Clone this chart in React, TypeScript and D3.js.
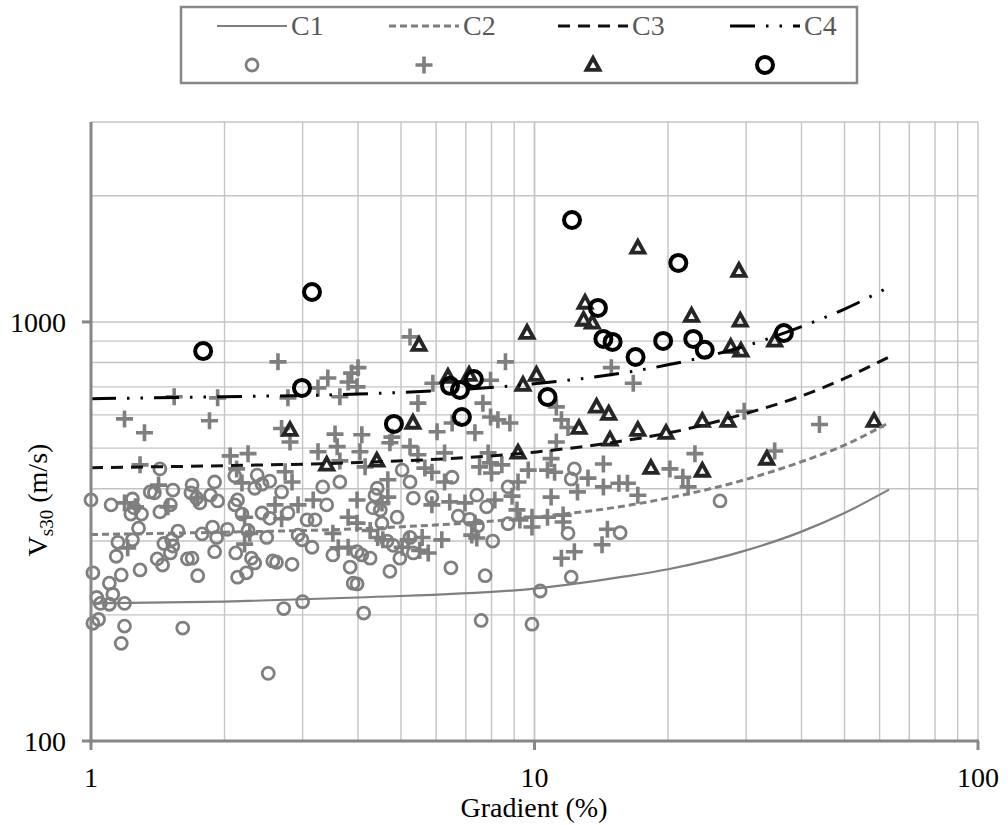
import React, { useEffect, useRef } from 'react';
import * as d3 from 'd3';

// axis ticks
const xTicks = [1, 10, 100];
const yTicks = [100, 1000];

// fitted curves, gradient (%) against Vs30 (m/s)
const curveGrad = [1, 2, 4, 10, 16, 20, 30, 40, 50, 63];
const c1Vs = [213, 215, 220, 231, 247, 257, 285, 316, 350, 398];
const c2Vs = [311, 315, 321, 342, 364, 380, 421, 464, 508, 575];
const c3Vs = [449, 454, 462, 489, 521, 543, 605, 666, 733, 825];
const c4Vs = [656, 663, 673, 712, 757, 790, 877, 975, 1073, 1212];

// class C1 sites [gradient, Vs30]
const siteC1 = [
  [1.0, 376], [1.11, 366], [1.24, 378], [1.25, 360], [1.23, 348], [1.3, 348], [1.28, 322], [1.15, 298],
  [1.24, 302], [1.14, 276], [1.29, 256], [1.17, 249], [1.01, 252], [1.1, 238], [1.12, 224], [1.03, 220],
  [1.05, 213], [1.1, 212], [1.19, 213], [1.01, 191], [1.04, 195], [1.19, 188], [1.17, 171], [1.61, 186],
  [2.51, 145], [2.72, 207], [3.0, 215], [1.43, 446], [1.36, 393], [1.39, 391], [1.53, 397], [1.69, 408],
  [1.68, 391], [1.76, 370], [1.9, 415], [1.93, 374], [1.86, 386], [1.43, 352], [1.51, 366], [1.73, 380],
  [1.57, 317], [1.46, 296], [1.52, 302], [1.53, 292], [1.51, 281], [1.41, 272], [1.45, 263], [1.65, 272],
  [1.69, 273], [1.74, 248], [1.78, 312], [1.88, 324], [1.92, 306], [1.9, 283], [2.03, 320], [2.11, 429],
  [2.11, 366], [2.14, 376], [2.19, 348], [2.12, 281], [2.14, 246], [2.24, 252], [2.26, 318], [2.37, 431],
  [2.34, 401], [2.43, 410], [2.53, 417], [2.43, 350], [2.53, 340], [2.49, 306], [2.69, 393], [2.57, 269],
  [2.62, 267], [2.84, 264], [2.3, 273], [2.34, 266], [2.78, 350], [2.93, 310], [2.99, 302], [3.07, 337],
  [3.2, 337], [3.15, 290], [3.33, 404], [3.4, 366], [3.64, 415], [3.51, 278], [3.84, 260], [3.9, 238],
  [3.98, 283], [4.08, 278], [4.26, 273], [4.72, 254], [4.97, 273], [4.8, 293], [4.65, 300], [5.33, 281],
  [5.24, 306], [4.9, 342], [4.53, 331], [4.49, 356], [4.32, 360], [4.37, 386], [4.42, 401], [5.03, 443],
  [5.24, 415], [5.33, 380], [5.87, 382], [6.52, 426], [6.73, 344], [7.14, 338], [7.44, 326], [7.41, 386],
  [7.8, 362], [8.05, 300], [6.48, 259], [7.74, 248], [8.72, 404], [8.72, 330], [12.3, 446], [12.1, 422],
  [11.9, 313], [10.3, 228], [12.1, 246], [7.58, 194], [9.87, 190], [4.12, 202], [3.98, 237], [15.6, 314],
  [26.2, 374],
];

// class C2 sites
const siteC2 = [
  [2.64, 803], [1.54, 663], [1.93, 659], [2.78, 659], [1.19, 587], [1.85, 581], [1.32, 544], [3.64, 663],
  [3.42, 735], [3.25, 696], [3.55, 540], [2.69, 557], [3.87, 755], [3.8, 719], [5.24, 921], [8.6, 803],
  [5.9, 714], [7.96, 726], [5.46, 640], [7.65, 640], [7.96, 593], [8.27, 584], [8.8, 574], [6.52, 574],
  [6.03, 547], [7.34, 544], [11.2, 627], [11.5, 584], [11.9, 560], [14.9, 778], [4.0, 778], [3.98, 700],
  [4.08, 538], [4.77, 531], [16.7, 714], [29.7, 612], [43.9, 569], [1.29, 456], [2.06, 479], [2.26, 485],
  [2.13, 446], [2.81, 517], [3.25, 490], [3.59, 504], [3.64, 466], [2.74, 439], [2.84, 415], [1.49, 362],
  [1.26, 362], [1.19, 370], [1.21, 289], [2.22, 342], [2.22, 295], [2.28, 313], [2.6, 366], [2.69, 339],
  [2.93, 366], [3.17, 376], [3.51, 313], [3.8, 342], [3.8, 290], [3.61, 289], [1.42, 408], [2.19, 413],
  [1.74, 380], [4.72, 515], [5.24, 504], [5.46, 482], [6.27, 487], [7.86, 487], [11.2, 517], [4.04, 490],
  [4.15, 451], [4.67, 420], [5.66, 448], [5.87, 438], [6.27, 415], [7.52, 451], [7.96, 461], [8.44, 456],
  [8.0, 436], [9.18, 415], [9.68, 443], [10.7, 443], [11.1, 438], [10.9, 472], [14.3, 458], [13.2, 424],
  [14.3, 404], [15.5, 412], [12.5, 393], [10.9, 382], [8.9, 384], [6.44, 372], [6.97, 370], [8.14, 376],
  [5.87, 366], [4.67, 382], [4.53, 370], [9.13, 356], [9.27, 337], [9.87, 342], [9.87, 324], [10.7, 342],
  [11.6, 346], [11.6, 333], [7.34, 331], [7.22, 310], [7.41, 305], [5.58, 306], [6.18, 302], [5.76, 281],
  [5.51, 285], [4.43, 306], [4.26, 318], [4.55, 302], [5.19, 302], [5.03, 290], [11.5, 273], [12.3, 283],
  [14.2, 294], [14.6, 320], [3.98, 376], [3.98, 331], [23.0, 485], [20.2, 446], [21.6, 426], [22.2, 404],
  [17.1, 386], [34.8, 492], [16.2, 412],
];

// class C3 sites
const siteC3 = [
  [13.0, 1110], [12.9, 1011], [13.5, 995], [9.62, 941], [5.49, 881], [6.38, 739], [7.12, 747], [9.42, 707],
  [10.1, 747], [5.32, 574], [13.8, 627], [14.7, 603], [12.6, 558], [14.8, 523], [2.81, 552], [17.1, 1502],
  [28.9, 1323], [22.6, 1033], [29.1, 1006], [27.7, 871], [29.2, 853], [34.8, 901], [17.1, 552], [19.8, 543],
  [23.9, 580], [27.3, 580], [58.3, 580], [3.4, 456], [4.41, 466], [9.18, 487], [18.3, 448], [23.9, 441],
  [33.4, 471],
];

// class C4 sites
const siteC4 = [
  [1.79, 852], [2.99, 696], [3.15, 1179], [4.82, 571], [6.45, 704], [6.79, 688], [7.3, 731], [6.86, 593],
  [10.7, 662], [12.15, 1751], [13.9, 1080], [14.3, 911], [15.0, 896], [16.9, 825], [19.5, 901], [21.1, 1383],
  [22.8, 911], [24.2, 858], [36.5, 941],
];

const legendLabels = ['C1', 'C2', 'C3', 'C4'];

const GREY = '#7f7f7f';
const DARK = '#262626';
const GRID = '#c4c4c4';
const AXIS = '#878787';
const FONT = '"Liberation Serif", "Times New Roman", serif';

const lineStyles = [
  { color: GREY, width: 2.2, dash: null },
  { color: GREY, width: 3, dash: '7,4' },
  { color: '#111', width: 3, dash: '12,8' },
  { color: '#000', width: 3, dash: '25,11,2.5,11,2.5,11' },
];

const plusPath = 'M-8.5,0H8.5M0,-8.5V8.5';
const triPath = 'M0,-7L6.5,4.8L-6.5,4.8Z';

function drawMarker(g, kind, x, y) {
  if (kind === 0) {
    g.append('circle').attr('cx', x).attr('cy', y).attr('r', 6)
      .attr('fill', 'none').attr('stroke', GREY).attr('stroke-width', 2.8);
  } else if (kind === 1) {
    g.append('path').attr('d', plusPath).attr('transform', `translate(${x},${y})`)
      .attr('fill', 'none').attr('stroke', GREY).attr('stroke-width', 3.6);
  } else if (kind === 2) {
    g.append('path').attr('d', triPath).attr('transform', `translate(${x},${y})`)
      .attr('fill', 'none').attr('stroke', DARK).attr('stroke-width', 3.8)
      .attr('stroke-linejoin', 'miter');
  } else {
    g.append('circle').attr('cx', x).attr('cy', y).attr('r', 8)
      .attr('fill', 'none').attr('stroke', '#000').attr('stroke-width', 4);
  }
}

function VsChart() {
  const svgRef = useRef(null);

  useEffect(() => {
    const width = 1008;
    const height = 825;
    const left = 91, right = 978, top = 122, bottom = 741;

    const svg = d3.select(svgRef.current);
    svg.selectAll('*').remove();
    svg.attr('width', width).attr('height', height);

    const x = d3.scaleLog().domain([1, 100]).range([left, right]);
    const y = d3.scaleLog().domain([100, 3000]).range([bottom, top]);

    // grid
    const xGrid = [];
    [1, 10].forEach((d) => { for (let k = 1; k <= 10; k++) xGrid.push(d * k); });
    const yGrid = [];
    [100, 1000].forEach((d) => { for (let k = 1; k <= 9; k++) if (d * k <= 3000) yGrid.push(d * k); });

    const grid = svg.append('g');
    grid.selectAll('.gx').data(xGrid).enter().append('line')
      .attr('x1', (d) => x(d)).attr('x2', (d) => x(d))
      .attr('y1', top).attr('y2', bottom)
      .attr('stroke', GRID).attr('stroke-width', 1.4);
    grid.selectAll('.gy').data(yGrid).enter().append('line')
      .attr('x1', left).attr('x2', right)
      .attr('y1', (d) => y(d)).attr('y2', (d) => y(d))
      .attr('stroke', GRID).attr('stroke-width', 1.4);

    // markers
    const marks = svg.append('g');
    [siteC1, siteC2, siteC3, siteC4].forEach((pts, k) => {
      pts.forEach((p) => drawMarker(marks, k, x(p[0]), y(p[1])));
    });

    // curves
    const line = d3.line().curve(d3.curveMonotoneX).x((d) => x(d[0])).y((d) => y(d[1]));
    [c1Vs, c2Vs, c3Vs, c4Vs].forEach((vs, k) => {
      const st = lineStyles[k];
      svg.append('path')
        .attr('d', line(curveGrad.map((g, i) => [g, vs[i]])))
        .attr('fill', 'none')
        .attr('stroke', st.color)
        .attr('stroke-width', st.width)
        .attr('stroke-dasharray', st.dash);
    });

    // axes
    svg.append('line').attr('x1', left).attr('x2', left).attr('y1', top).attr('y2', bottom + 1.5)
      .attr('stroke', AXIS).attr('stroke-width', 3);
    svg.append('line').attr('x1', left - 1.5).attr('x2', right + 1).attr('y1', bottom).attr('y2', bottom)
      .attr('stroke', AXIS).attr('stroke-width', 3);

    svg.selectAll('.xt').data(xTicks).enter().append('line')
      .attr('x1', (d) => x(d)).attr('x2', (d) => x(d)).attr('y1', bottom).attr('y2', bottom + 9)
      .attr('stroke', AXIS).attr('stroke-width', 3);
    svg.selectAll('.yt').data(yTicks).enter().append('line')
      .attr('x1', left - 9).attr('x2', left).attr('y1', (d) => y(d)).attr('y2', (d) => y(d))
      .attr('stroke', AXIS).attr('stroke-width', 3);

    svg.selectAll('.xl').data(xTicks).enter().append('text')
      .attr('x', (d) => x(d)).attr('y', 787)
      .attr('text-anchor', 'middle')
      .style('font-family', FONT).style('font-size', '28px')
      .text((d) => d);
    svg.selectAll('.yl').data(yTicks).enter().append('text')
      .attr('x', 66).attr('y', (d) => y(d) + 10)
      .attr('text-anchor', 'end')
      .style('font-family', FONT).style('font-size', '28px')
      .text((d) => d);

    svg.append('text')
      .attr('x', 534).attr('y', 817)
      .attr('text-anchor', 'middle')
      .style('font-family', FONT).style('font-size', '28px')
      .text('Gradient (%)');

    const yt = svg.append('text')
      .attr('transform', 'translate(47,500) rotate(-90)')
      .attr('text-anchor', 'middle')
      .style('font-family', FONT).style('font-size', '28px');
    yt.append('tspan').text('V');
    yt.append('tspan').attr('dy', 6).style('font-size', '19px').text('s30');
    yt.append('tspan').attr('dy', -6).text(' (m/s)');

    // legend
    const lg = svg.append('g');
    lg.append('rect').attr('x', 181).attr('y', 7).attr('width', 676).attr('height', 76)
      .attr('fill', '#fff').attr('stroke', AXIS).attr('stroke-width', 2.5);
    const slotX = [217, 389, 558, 730];
    legendLabels.forEach((lab, k) => {
      const st = lineStyles[k];
      const x0 = slotX[k];
      lg.append('line').attr('x1', x0).attr('x2', x0 + 70).attr('y1', 26).attr('y2', 26)
        .attr('stroke', st.color).attr('stroke-width', st.width)
        .attr('stroke-dasharray', st.dash);
      lg.append('text').attr('x', x0 + 74).attr('y', 35)
        .style('font-family', FONT).style('font-size', '28px').attr('fill', '#595959')
        .text(lab);
      drawMarker(lg, k, x0 + 35, 65);
    });
  }, []);

  return <svg ref={svgRef} style={{ position: 'absolute', left: 0, top: 0 }}></svg>;
}

export default function App() {
  return <VsChart />;
}
